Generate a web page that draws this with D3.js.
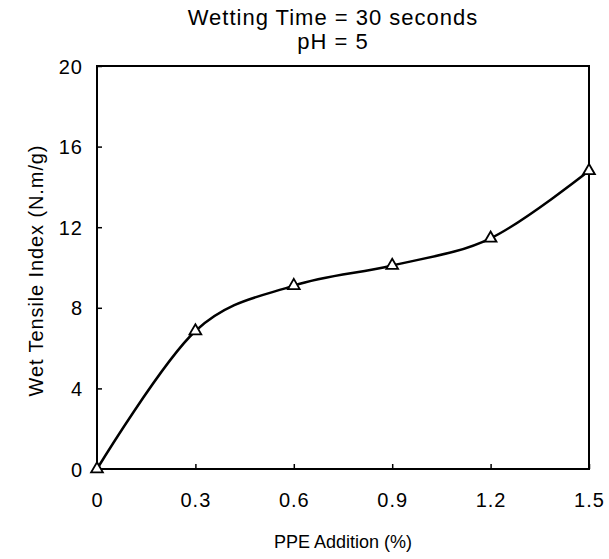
<!DOCTYPE html>
<html>
<head>
<meta charset="utf-8">
<script src="https://cdn.jsdelivr.net/npm/d3@7"></script>
<style>
  body { margin: 0; background: #fff; }
  text { font-family: "Liberation Sans", Arial, sans-serif; fill: #000; }
</style>
</head>
<body>
<div id="chart"></div>
<script>
// values
const ppeAddition = [0, 0.3, 0.6, 0.9, 1.2, 1.5]
const wetTensile = [0, 6.85, 9.1, 10.1, 11.45, 14.8]
const xTicks = [0, 0.3, 0.6, 0.9, 1.2, 1.5]
const yTicks = [0, 4, 8, 12, 16, 20]
const titleLines = ['Wetting Time = 30 seconds', 'pH = 5']

const W = 609, H = 559
const margin = { top: 66, right: 20, bottom: 90, left: 97 }
const width = W - margin.left - margin.right
const height = H - margin.top - margin.bottom

const svg = d3.select('#chart').append('svg')
  .attr('width', W)
  .attr('height', H)

const g = svg.append('g')
  .attr('transform', `translate(${margin.left},${margin.top})`)

const x = d3.scaleLinear().domain([0, 1.5]).range([0, width])
const y = d3.scaleLinear().domain([0, 20]).range([height, 0])

// frame
g.append('rect')
  .attr('width', width).attr('height', height)
  .attr('fill', 'none').attr('stroke', '#000').attr('stroke-width', 2)

// axes, ticks pointing inward
const xAxis = g.append('g')
  .attr('transform', `translate(0,${height})`)
  .call(d3.axisBottom(x).tickValues(xTicks).tickSize(-5).tickPadding(24)
    .tickFormat(d => d === 0 ? '0' : d3.format('.1f')(d)))
const yAxis = g.append('g')
  .call(d3.axisLeft(y).tickValues(yTicks).tickSize(-5).tickPadding(14))
for (const a of [xAxis, yAxis]) {
  a.select('.domain').remove()
  a.selectAll('line').attr('stroke', '#000').attr('stroke-width', 1.5)
  a.selectAll('text').attr('font-size', 20).attr('fill', '#000')
    .attr('font-family', '"Liberation Sans", Arial, sans-serif')
    .attr('letter-spacing', 1)
}
yAxis.selectAll('text').attr('dy', '0.35em')

// smoothed line
const line = d3.line()
  .x((d, i) => x(ppeAddition[i]))
  .y(d => y(d))
  .curve(d3.curveCardinal.tension(0))
g.append('path')
  .datum(wetTensile)
  .attr('d', line)
  .attr('fill', 'none')
  .attr('stroke', '#000')
  .attr('stroke-width', 2.5)

// open triangle markers
g.selectAll('.pt')
  .data(wetTensile)
  .join('path')
  .attr('class', 'pt')
  .attr('transform', (d, i) => `translate(${x(ppeAddition[i])},${y(d)})`)
  .attr('d', d3.symbol(d3.symbolTriangle, 60))
  .attr('fill', '#fff')
  .attr('stroke', '#000')
  .attr('stroke-width', 1.8)

// titles
svg.selectAll('.title')
  .data(titleLines)
  .join('text')
  .attr('class', 'title')
  .attr('x', 333)
  .attr('y', (d, i) => 25 + i * 24)
  .attr('text-anchor', 'middle')
  .attr('font-size', 22)
  .attr('letter-spacing', 1)
  .text(d => d)

svg.append('text')
  .attr('x', 343)
  .attr('y', 548)
  .attr('text-anchor', 'middle')
  .attr('font-size', 18)
  .text('PPE Addition (%)')

svg.append('text')
  .attr('transform', `translate(43,${margin.top + height / 2 + 3}) rotate(-90)`)
  .attr('text-anchor', 'middle')
  .attr('font-size', 20)
  .attr('letter-spacing', 0.9)
  .text('Wet Tensile Index (N.m/g)')
</script>
</body>
</html>
